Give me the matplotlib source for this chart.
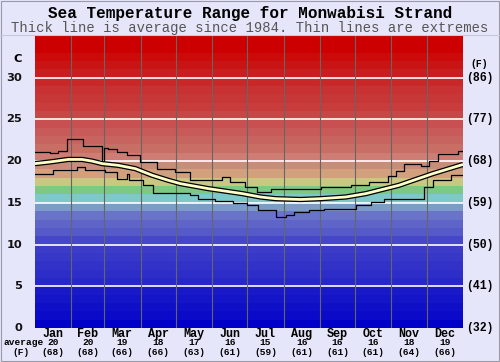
import matplotlib
matplotlib.use('Agg')
import matplotlib.pyplot as plt
from matplotlib.patches import Rectangle
from matplotlib.lines import Line2D

MONTHS = ['Jan', 'Feb', 'Mar', 'Apr', 'May', 'Jun', 'Jul', 'Aug', 'Sep', 'Oct', 'Nov', 'Dec']
MONTH_START = [0, 31, 59, 90, 120, 151, 181, 212, 243, 273, 304, 334, 365]
AVG_C = [20, 20, 19, 18, 17, 16, 15, 16, 16, 16, 18, 19]
AVG_F = [68, 68, 66, 66, 63, 61, 59, 61, 61, 61, 64, 66]
C_TICKS = [0, 5, 10, 15, 20, 25, 30]
F_TICKS = [32, 41, 50, 59, 68, 77, 86]

# average (thick line), day of year -> deg C
avg_day = [0, 12.8, 28.2, 40.2, 48.7, 57.3, 70.9, 85.5, 100, 113.7, 124, 147.9,
           177, 192.3, 205.1, 226.5, 243.6, 265, 282, 310.3, 339.3, 365]
avg_temp = [19.7, 19.9, 20.2, 20.2, 20.0, 19.7, 19.5, 19.1, 18.3, 17.7, 17.3, 16.7,
            16.1, 15.7, 15.5, 15.4, 15.5, 15.7, 16.1, 17.1, 18.5, 19.6]

# extremes (thin step lines)
max_day = [0, 12.8, 19.7, 27.4, 41, 57.3, 59, 62.4, 70, 78.6, 89.7, 104.3, 119.7,
           132.5, 159.8, 166.7, 179.5, 189.7, 200.9, 212, 243.6, 269.2, 284.6,
           300.9, 307.7, 314.5, 329, 335.9, 343.6, 360.7, 365]
max_temp = [21.1, 21.0, 21.2, 22.6, 21.8, 19.7, 21.6, 21.5, 21.1, 20.7, 19.9, 19.1, 18.7,
            17.7, 18.1, 17.5, 16.9, 16.3, 16.6, 16.7, 16.9, 17.1, 17.5,
            18.2, 18.8, 19.7, 19.4, 20.0, 20.9, 21.2, 21.2]
min_day = [0, 15.4, 35.9, 42.7, 59.8, 70, 78.6, 80.3, 92.3, 100.9, 132.5, 139.3,
           153.8, 169.2, 181.2, 190.6, 205.1, 213.7, 220.5, 233.3, 246.2, 273.5,
           286.3, 297.4, 306, 331.6, 339.3, 354.7, 365]
min_temp = [18.4, 18.9, 19.3, 18.9, 18.7, 17.9, 18.5, 17.7, 17.1, 16.2, 15.9, 15.5,
            15.2, 15.0, 14.7, 14.1, 13.3, 13.5, 13.9, 14.2, 14.3, 14.7,
            15.1, 15.5, 15.4, 16.9, 17.7, 18.3, 18.3]

# one colour per degree band, 0..34
BAND_COLORS = [
    (0, 0, 200), (10, 10, 200), (15, 15, 200), (20, 20, 200), (25, 25, 200),
    (40, 40, 200), (45, 45, 200), (50, 50, 200), (55, 55, 200), (60, 60, 200),
    (70, 70, 200), (85, 90, 200), (95, 100, 200), (105, 115, 200), (125, 155, 200),
    (125, 200, 200), (125, 200, 130), (200, 200, 130), (210, 160, 125), (200, 140, 120),
    (205, 125, 115), (200, 110, 100), (200, 100, 95), (200, 90, 90), (200, 80, 80),
    (200, 70, 70), (200, 60, 60), (200, 55, 55), (200, 50, 50), (200, 40, 40),
    (200, 30, 30), (200, 20, 20), (204, 10, 10), (204, 0, 0), (204, 0, 0),
]

BG = '#e6e6fa'
MONO = 'Liberation Mono'

fig = plt.figure(figsize=(5, 3.62), dpi=100, facecolor=BG)
ax = fig.add_axes([0.07, 0.094, 0.856, 0.8066])
ax.set_xlim(0, 365)
ax.set_ylim(0, 35)
ax.axis('off')

for i, c in enumerate(BAND_COLORS):
    ax.axhspan(i, i + 1, color=[v / 255 for v in c], lw=0, zorder=0)

for t in C_TICKS[1:]:
    ax.axhline(t, color='white', lw=1.2, zorder=1)
for d in MONTH_START[1:-1]:
    ax.axvline(d, color='#666666', lw=0.8, zorder=1)

ax.step(max_day, max_temp, where='post', color='black', lw=0.9, zorder=3)
ax.step(min_day, min_temp, where='post', color='black', lw=0.9, zorder=3)
ax.plot(avg_day, avg_temp, color='black', lw=3.8, zorder=4, solid_capstyle='butt')
ax.plot(avg_day, avg_temp, color='#ffffc8', lw=2.0, zorder=5, solid_capstyle='butt')

# axis labels both sides
for c, f in zip(C_TICKS, F_TICKS):
    ax.text(-11, c, str(c), ha='right', va='center', fontsize=8.2,
            fontweight='bold', family='DejaVu Sans', color='#111111', clip_on=False)
    ax.text(368, c, '(%d)' % f, ha='left', va='center', fontsize=8.3,
            fontweight='bold', family=MONO, clip_on=False)
ax.text(-11, 32.2, 'C', ha='right', va='center', fontsize=8.2, fontweight='bold',
        family='DejaVu Sans', clip_on=False)
ax.text(379, 31.7, '(F)', ha='center', va='center', fontsize=7, fontweight='bold',
        family=MONO, clip_on=False)

# month labels and monthly averages
for i, m in enumerate(MONTHS):
    mid = (MONTH_START[i] + MONTH_START[i + 1]) / 2
    x = 0.07 + 0.856 * mid / 365
    fig.text(x, 0.0773, m, ha='center', va='center', fontsize=8.5, fontweight='bold', family=MONO)
    fig.text(x, 0.0525, str(AVG_C[i]), ha='center', va='center', fontsize=6.8, fontweight='bold', family=MONO)
    fig.text(x, 0.0276, '(%d)' % AVG_F[i], ha='center', va='center', fontsize=6.8, fontweight='bold', family=MONO)
fig.text(0.006, 0.0525, 'average', ha='left', va='center', fontsize=6.8, fontweight='bold', family=MONO)
fig.text(0.042, 0.0276, '(F)', ha='center', va='center', fontsize=6.8, fontweight='bold', family=MONO)

fig.text(0.5, 0.962, 'Sea Temperature Range for Monwabisi Strand', ha='center', va='center',
         fontsize=11.5, fontweight='bold', family=MONO)
fig.text(0.5, 0.922, 'Thick line is average since 1984. Thin lines are extremes', ha='center',
         va='center', fontsize=10, family=MONO, color='#555555')

# header separator and frame
fig.add_artist(Line2D([0, 1], [0.903, 0.903], color='#c8c8dc', lw=0.8))
fig.add_artist(Rectangle((0.002, 0.003), 0.995, 0.994, fill=False, ec='#9a9aaa', lw=0.8))

fig.savefig('out.png', dpi=100, facecolor=BG)
